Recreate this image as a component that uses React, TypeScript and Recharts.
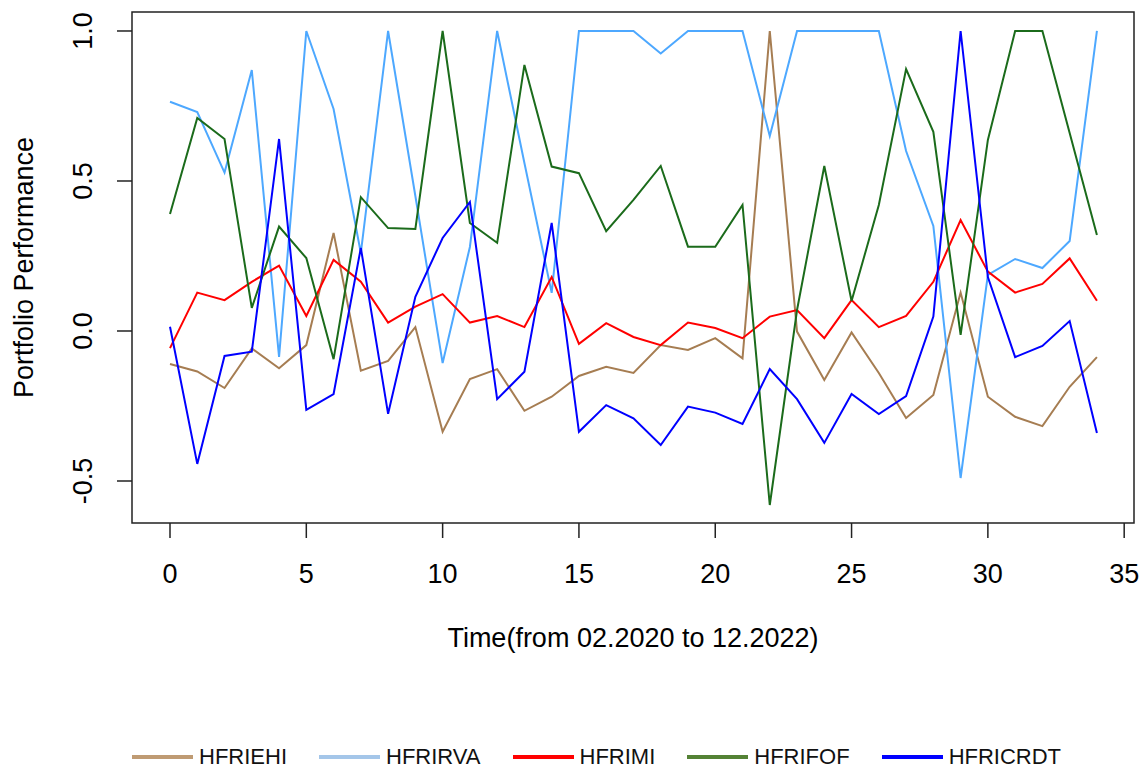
import { LineChart, Line, XAxis, YAxis, Legend, ReferenceArea, Label } from 'recharts';

// time index (months from 02.2020 to 12.2022)
const timeIndex = [
  0, 1, 2, 3, 4, 5, 6, 7, 8, 9, 10, 11, 12, 13, 14, 15, 16, 17,
  18, 19, 20, 21, 22, 23, 24, 25, 26, 27, 28, 29, 30, 31, 32, 33, 34,
];

const hfriehi = [
  -0.11, -0.135, -0.19, -0.058, -0.124, -0.047, 0.327, -0.132, -0.1, 0.013, -0.336, -0.16,
  -0.127, -0.266, -0.219, -0.15, -0.119, -0.14, -0.047, -0.063, -0.024, -0.091, 1.0, -0.002,
  -0.163, -0.005, -0.14, -0.29, -0.213, 0.128, -0.219, -0.286, -0.317, -0.186, -0.087,
];
const hfrirva = [
  0.764, 0.73, 0.528, 0.87, -0.086, 1.0, 0.74, 0.26, 1.0, 0.45, -0.107, 0.28,
  1.0, 0.56, 0.127, 1.0, 1.0, 1.0, 0.925, 1.0, 1.0, 1.0, 0.65, 1.0,
  1.0, 1.0, 1.0, 0.6, 0.35, -0.49, 0.187, 0.24, 0.21, 0.3, 1.0,
];
const hfrimi = [
  -0.057, 0.128, 0.103, 0.164, 0.218, 0.05, 0.237, 0.164, 0.028, 0.081, 0.123, 0.028,
  0.05, 0.013, 0.18, -0.043, 0.026, -0.02, -0.047, 0.028, 0.01, -0.024, 0.048, 0.07,
  -0.024, 0.103, 0.013, 0.05, 0.164, 0.37, 0.198, 0.128, 0.157, 0.242, 0.101,
];
const hfrifof = [
  0.39, 0.71, 0.64, 0.077, 0.348, 0.243, -0.094, 0.446, 0.343, 0.34, 1.0, 0.36,
  0.294, 0.887, 0.548, 0.526, 0.333, 0.437, 0.55, 0.281, 0.281, 0.42, -0.58, 0.07,
  0.55, 0.1, 0.42, 0.873, 0.664, -0.013, 0.637, 1.0, 1.0, 0.66, 0.32,
];
const hfricrdt = [
  0.014, -0.443, -0.083, -0.069, 0.64, -0.263, -0.21, 0.277, -0.276, 0.114, 0.31, 0.43,
  -0.227, -0.136, 0.36, -0.336, -0.247, -0.291, -0.38, -0.252, -0.272, -0.31, -0.127, -0.227,
  -0.373, -0.21, -0.277, -0.217, 0.048, 1.0, 0.18, -0.087, -0.05, 0.033, -0.34,
];

const seriesNames = ['HFRIEHI', 'HFRIRVA', 'HFRIMI', 'HFRIFOF', 'HFRICRDT'];
const seriesValues = [hfriehi, hfrirva, hfrimi, hfrifof, hfricrdt];
const lineColors = ['#A67D52', '#4DA8FF', '#FF0000', '#1B6B1B', '#0000FF'];
const legendColors = ['#BF9B73', '#A4C6E9', '#FF0000', '#548235', '#0000FF'];

const xTicks = [0, 5, 10, 15, 20, 25, 30, 35];
const yTicks = [-0.5, 0, 0.5, 1.0];

const X_DOMAIN: [number, number] = [-1.394, 35.36];
const Y_DOMAIN: [number, number] = [-0.64, 1.0633];

const FONT = '"Liberation Sans", Arial, sans-serif';

const chartData = timeIndex.map((t, i) => {
  const row: Record<string, number> = { t };
  seriesNames.forEach((name, k) => {
    row[name] = seriesValues[k][i];
  });
  return row;
});

// R-style rotated y tick labels
const YTick = ({ x, y, payload }: any) => {
  const bx = x - 23;
  return (
    <text
      x={bx}
      y={y}
      transform={`rotate(-90, ${bx}, ${y})`}
      textAnchor="middle"
      fontSize={27}
      fontFamily={FONT}
      fill="#000"
    >
      {Number(payload.value).toFixed(1)}
    </text>
  );
};

const YTitle = ({ viewBox }: any) => {
  const cy = viewBox.y + viewBox.height / 2;
  return (
    <text
      x={33}
      y={cy}
      transform={`rotate(-90, 33, ${cy})`}
      textAnchor="middle"
      fontSize={27}
      fontFamily={FONT}
      fill="#000"
    >
      Portfolio Performance
    </text>
  );
};

const LegendContent = () => (
  <div
    style={{
      display: 'flex',
      alignItems: 'center',
      paddingLeft: 132,
      gap: 32,
      fontFamily: FONT,
      fontSize: 22,
      lineHeight: '26px',
      color: '#111',
    }}
  >
    {seriesNames.map((name, k) => (
      <div key={name} style={{ display: 'flex', alignItems: 'center', gap: 6 }}>
        <span style={{ display: 'inline-block', width: 61, height: 4, background: legendColors[k] }} />
        <span>{name}</span>
      </div>
    ))}
  </div>
);

export default function App() {
  return (
    <div style={{ position: 'absolute', left: 0, top: 0, background: '#fff' }}>
      <LineChart width={1142} height={769} data={chartData} margin={{ top: 12, right: 8, left: 0, bottom: 0 }}>
        <XAxis
          dataKey="t"
          type="number"
          domain={X_DOMAIN}
          allowDataOverflow
          ticks={xTicks}
          interval={0}
          height={246}
          tickSize={15}
          tickMargin={26}
          axisLine={false}
          tickLine={{ stroke: '#222', strokeWidth: 1.5 }}
          tick={{ fill: '#000', fontSize: 27, fontFamily: FONT }}
        >
          <Label value="Time(from 02.2020 to 12.2022)" position="insideTop" offset={105} fill="#000" fontSize={27} fontFamily={FONT} />
        </XAxis>
        <YAxis
          type="number"
          domain={Y_DOMAIN}
          allowDataOverflow
          ticks={yTicks}
          interval={0}
          width={132}
          tickSize={15}
          tickMargin={2}
          axisLine={false}
          tickLine={{ stroke: '#222', strokeWidth: 1.5 }}
          tick={<YTick />}
        >
          <Label content={<YTitle />} />
        </YAxis>
        <ReferenceArea
          x1={X_DOMAIN[0]}
          x2={X_DOMAIN[1]}
          y1={Y_DOMAIN[0]}
          y2={Y_DOMAIN[1]}
          fill="none"
          fillOpacity={0}
          stroke="#222"
          strokeWidth={1.5}
          ifOverflow="extendDomain"
        />
        {seriesNames.map((name, k) => (
          <Line
            key={name}
            type="linear"
            dataKey={name}
            stroke={lineColors[k]}
            strokeWidth={2}
            dot={false}
            isAnimationActive={false}
          />
        ))}
        <Legend
          layout="horizontal"
          verticalAlign="middle"
          align="center"
          content={<LegendContent />}
          wrapperStyle={{ top: 744, left: 0, width: 1142 }}
        />
      </LineChart>
    </div>
  );
}
